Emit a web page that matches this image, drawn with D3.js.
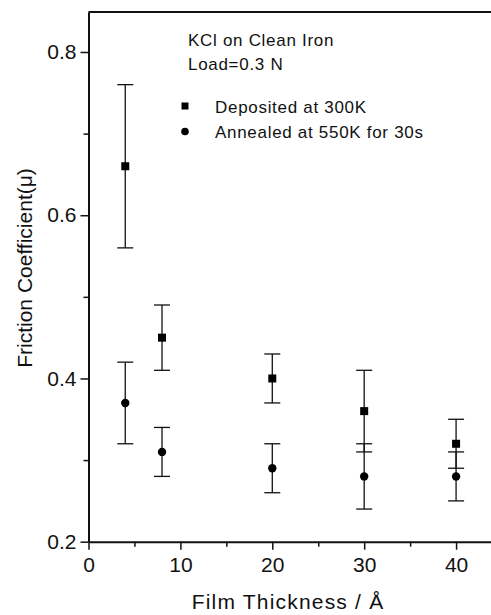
<!DOCTYPE html>
<html>
<head>
<meta charset="utf-8">
<script src="https://cdnjs.cloudflare.com/ajax/libs/d3/7.8.5/d3.min.js"></script>
<style>
  body { margin: 0; background: #fff; }
  svg { display: block; font-family: "Liberation Sans", Arial, sans-serif; }
  .axis path, .axis line { stroke: #111; }
  .axis text { fill: #111; }
</style>
</head>
<body>
<script>
// film thickness (Å)
var thickness = [4, 8, 20, 30, 40];

// deposited at 300K
var depMean = [0.66, 0.45, 0.40, 0.36, 0.32];
var depErr  = [0.10, 0.04, 0.03, 0.05, 0.03];

// annealed at 550K for 30s
var annMean = [0.37, 0.31, 0.29, 0.28, 0.28];
var annErr  = [0.05, 0.03, 0.03, 0.04, 0.03];

var xMajor = [0, 10, 20, 30, 40];
var xMinor = [5, 15, 25, 35];
var yMajor = [0.2, 0.4, 0.6, 0.8];
var yMinor = [0.3, 0.5, 0.7];

var legendNotes = ["KCl on Clean Iron", "Load=0.3 N"];
var seriesNames = ["Deposited at 300K", "Annealed at 550K for 30s"];

var width = 491, height = 615;
var svg = d3.select("body").append("svg").attr("width", width).attr("height", height);

var x = d3.scaleLinear().domain([0, 43.8]).range([88.5, 491]);
var y = d3.scaleLinear().domain([0.2, 0.849]).range([541.7, 12]);

// minor ticks first
svg.append("g").attr("class", "axis")
    .attr("transform", "translate(" + x(0) + ",0)")
    .call(d3.axisLeft(y).tickValues(yMinor).tickSize(5).tickSizeOuter(0).tickFormat(""))
    .call(function (g) { g.select(".domain").remove(); })
    .selectAll("line").attr("stroke-width", 1.5);

svg.append("g").attr("class", "axis")
    .attr("transform", "translate(0," + y(0.2) + ")")
    .call(d3.axisBottom(x).tickValues(xMinor).tickSize(5).tickSizeOuter(0).tickFormat(""))
    .call(function (g) { g.select(".domain").remove(); })
    .selectAll("line").attr("stroke-width", 1.5);

// major axes
var yAxis = svg.append("g").attr("class", "axis")
    .attr("transform", "translate(" + x(0) + ",0)")
    .call(d3.axisLeft(y).tickValues(yMajor).tickSize(8).tickSizeOuter(0).tickPadding(4)
        .tickFormat(d3.format(".1f")));
yAxis.select(".domain").attr("stroke-width", 2);
yAxis.selectAll("line").attr("stroke-width", 1.5);
yAxis.selectAll("text").attr("font-size", 21).attr("font-family", "Liberation Sans, Arial, sans-serif");

var xAxis = svg.append("g").attr("class", "axis")
    .attr("transform", "translate(0," + y(0.2) + ")")
    .call(d3.axisBottom(x).tickValues(xMajor).tickSize(8).tickSizeOuter(0).tickPadding(7)
        .tickFormat(d3.format("d")));
xAxis.select(".domain").attr("stroke-width", 2);
xAxis.selectAll("line").attr("stroke-width", 1.5);
xAxis.selectAll("text").attr("font-size", 21).attr("font-family", "Liberation Sans, Arial, sans-serif");

// top frame line
svg.append("line")
    .attr("x1", x(0)).attr("x2", width)
    .attr("y1", y(0.849)).attr("y2", y(0.849))
    .attr("stroke", "#111").attr("stroke-width", 2);

// axis titles
svg.append("text")
    .attr("x", 288).attr("y", 609)
    .attr("text-anchor", "middle").attr("font-size", 21).attr("letter-spacing", 1.2).attr("fill", "#111")
    .text("Film Thickness / Å");

svg.append("text")
    .attr("transform", "translate(32,268) rotate(-90)")
    .attr("text-anchor", "middle").attr("font-size", 21).attr("fill", "#111")
    .text("Friction Coefficient(μ)");

// error bars + markers
function drawSeries(mean, err, shape) {
    var g = svg.append("g");
    var rows = thickness.map(function (t, i) { return { t: t, m: mean[i], e: err[i] }; });
    var cap = 8;
    g.selectAll(".bar").data(rows).enter().append("line")
        .attr("x1", function (d) { return x(d.t); })
        .attr("x2", function (d) { return x(d.t); })
        .attr("y1", function (d) { return y(d.m - d.e); })
        .attr("y2", function (d) { return y(d.m + d.e); })
        .attr("stroke", "#111").attr("stroke-width", 1.3);
    [-1, 1].forEach(function (s) {
        g.selectAll(".cap" + s).data(rows).enter().append("line")
            .attr("x1", function (d) { return x(d.t) - cap; })
            .attr("x2", function (d) { return x(d.t) + cap; })
            .attr("y1", function (d) { return y(d.m + s * d.e); })
            .attr("y2", function (d) { return y(d.m + s * d.e); })
            .attr("stroke", "#111").attr("stroke-width", 1.3);
    });
    if (shape === "square") {
        g.selectAll(".pt").data(rows).enter().append("rect")
            .attr("x", function (d) { return x(d.t) - 4; })
            .attr("y", function (d) { return y(d.m) - 4; })
            .attr("width", 8).attr("height", 8).attr("fill", "#000");
    } else {
        g.selectAll(".pt").data(rows).enter().append("circle")
            .attr("cx", function (d) { return x(d.t); })
            .attr("cy", function (d) { return y(d.m); })
            .attr("r", 4.2).attr("fill", "#000");
    }
}
drawSeries(depMean, depErr, "square");
drawSeries(annMean, annErr, "circle");

// legend
svg.selectAll(".note").data(legendNotes).enter().append("text")
    .attr("x", 188).attr("y", function (d, i) { return 46 + i * 24; })
    .attr("font-size", 17).attr("letter-spacing", 0.7).attr("fill", "#111")
    .text(function (d) { return d; });

var leg = svg.append("g");
leg.append("rect").attr("x", 181.5).attr("y", 102.5).attr("width", 7).attr("height", 7).attr("fill", "#000");
leg.append("circle").attr("cx", 185).attr("cy", 131.5).attr("r", 3.8).attr("fill", "#000");
leg.selectAll("text").data(seriesNames).enter().append("text")
    .attr("x", 215).attr("y", function (d, i) { return 113 + i * 25; })
    .attr("font-size", 17).attr("letter-spacing", 0.7).attr("fill", "#111")
    .text(function (d) { return d; });
</script>
</body>
</html>
